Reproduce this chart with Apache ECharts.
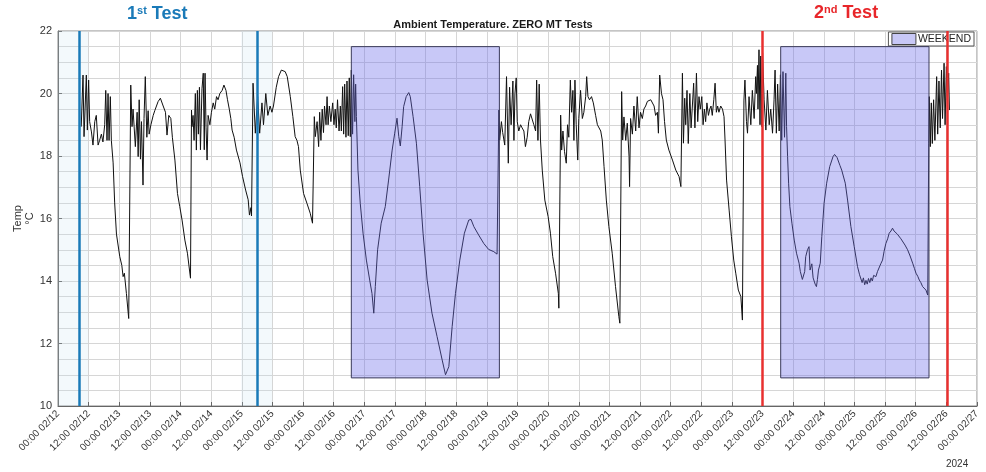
<!DOCTYPE html>
<html>
<head>
<meta charset="utf-8">
<script src="https://cdn.jsdelivr.net/npm/echarts@6/dist/echarts.min.js"></script>
<style>
  html, body { margin: 0; background: #fff; }
  #chart { width: 986px; height: 472px; }
</style>
</head>
<body>
<div id="chart"></div>
<script>
// hours since 00:00 02/12, temperature in degC
const run1 = [[9.1,18.94],[9.8,20.59],[10.2,18.62],[11.1,20.59],[11.5,18.83],[12.0,20.43],[12.4,19.1],[13.1,18.77],[13.7,18.35],[14.4,19.1],[15.0,19.3],[15.7,18.35],[16.3,18.5],[17.0,18.7],[17.6,18.45],[18.3,19.0],[18.7,20.1],[19.2,18.5],[19.6,20.0],[20.0,18.5],[20.5,19.9],[20.9,18.5],[21.6,17.78],[22.2,16.5],[22.9,15.5],[24.2,14.78],[25.0,14.5],[25.5,14.14],[26.0,14.25],[26.8,13.6],[27.7,12.8]];
const run2 = [[28.5,20.27],[29.0,18.94],[29.4,19.5],[30.3,18.3],[31.0,19.4],[31.4,17.98],[31.8,19.8],[32.3,17.9],[32.7,19.1],[33.3,17.07],[33.7,19.2],[34.2,20.54],[34.8,18.6],[35.3,19.45],[35.7,18.7],[36.4,19.0],[37.3,19.3],[37.9,19.45],[39.2,19.74],[40.1,19.85],[41.2,19.6],[42.1,19.4],[42.7,18.67],[43.4,19.3],[44.2,19.2],[44.8,18.6],[45.8,17.87],[46.8,16.8],[47.7,16.38],[48.6,15.95],[49.7,15.31],[50.7,14.89],[51.9,14.09]];
const run3 = [[52.3,19.47],[52.5,18.94],[52.9,19.3],[53.3,18.5],[53.8,20.0],[54.2,18.19],[54.6,20.1],[55.0,18.7],[55.4,20.2],[55.8,18.2],[56.4,20.15],[56.9,20.65],[57.3,18.2],[57.6,20.65],[58.0,18.9],[58.4,17.87],[58.8,19.3],[59.5,19.0],[60.1,19.4],[60.8,19.7],[61.4,19.5],[62.1,19.9],[62.7,19.8],[63.4,20.0],[64.3,20.1],[65.0,20.27],[65.8,20.1],[66.4,19.8],[67.1,19.5],[67.7,19.2],[68.2,18.83],[69.0,18.6],[69.9,18.19],[71.3,17.78],[72.3,17.34],[73.5,16.91],[74.5,16.6],[75.0,16.11],[75.6,16.35],[75.8,16.08]];
const run4 = [[76.4,20.33],[77.3,18.73],[78.2,19.9],[79.0,18.73],[79.9,19.7],[80.5,19.0],[81.4,20.0],[82.2,19.3],[83.1,19.6],[83.8,19.4],[84.4,19.6],[85.5,20.2],[86.4,20.54],[87.5,20.75],[88.1,20.8],[89.0,20.7],[89.8,20.54],[91.0,19.9],[92.0,19.26],[92.9,18.62],[93.6,18.5],[94.2,18.3],[94.9,17.55],[96.2,16.8],[97.5,16.49],[98.8,16.17],[99.7,15.85]];
const run5 = [[100.4,19.26],[100.8,18.62],[101.5,19.1],[102.1,18.3],[102.5,19.4],[103.0,18.5],[103.5,19.5],[104.0,18.75],[104.4,19.6],[105.0,19.0],[105.4,19.9],[105.8,19.0],[106.3,19.6],[106.9,19.1],[107.6,19.7],[108.1,19.0],[108.6,19.5],[109.0,18.9],[109.5,19.8],[110.1,18.8],[110.6,19.6],[111.0,18.8],[111.5,20.22],[111.9,18.7],[112.3,20.3],[112.8,18.6],[113.2,20.4],[113.7,18.65],[114.1,20.5],[114.5,18.62],[114.9,20.75],[115.4,18.7],[115.8,20.6],[116.3,19.1],[116.6,20.3],[116.9,19.26]];
const weekend1 = [[117.5,17.55],[118.4,16.49],[119.5,15.53],[120.8,14.67],[122.1,14.03],[123.0,13.6],[123.7,12.97],[124.3,13.82],[125.2,15.0],[126.6,15.85],[128.2,16.38],[129.5,17.23],[130.9,18.19],[131.9,18.73],[132.8,19.21],[133.5,18.62],[134.1,18.32],[134.8,18.94],[135.4,19.58],[136.4,19.9],[137.4,20.03],[138.0,19.9],[139.1,19.26],[140.4,18.41],[141.7,17.02],[143.0,15.53],[144.6,14.03],[146.5,12.97],[148.5,12.22],[150.5,11.47],[151.8,11.0],[153.1,11.26],[154.4,12.54],[155.7,13.6],[157.4,14.67],[159.2,15.53],[160.9,15.95],[161.8,15.97],[162.9,15.74],[164.8,15.47],[166.8,15.2],[168.7,15.01],[170.7,14.94],[172.0,14.86]];
const run6 = [[172.7,19.47],[173.0,18.51],[173.7,19.1],[174.2,18.75],[175.0,18.35],[175.7,20.54],[176.4,17.77],[176.9,20.2],[177.5,19.0],[178.2,20.4],[178.6,18.5],[179.0,20.0],[179.5,20.5],[179.9,19.1],[180.5,18.8],[181.2,19.0],[181.8,18.9],[182.5,18.8],[183.1,18.3],[183.8,18.6],[184.4,19.1],[185.1,19.35],[185.8,19.4],[186.4,19.0],[187.1,18.8],[187.5,20.43],[188.0,18.5],[188.5,20.3],[189.0,18.51],[189.7,17.55],[190.7,16.59],[192.0,16.06],[192.9,15.53],[193.8,14.78],[194.9,14.25],[196.0,13.6],[196.2,13.13]];
const run7 = [[196.9,19.31],[197.3,18.19],[197.8,18.8],[198.4,18.15],[199.1,17.77],[199.6,19.0],[200.1,18.6],[200.7,20.43],[201.2,19.4],[201.7,20.1],[202.1,18.5],[202.5,20.43],[203.0,19.0],[203.6,17.87],[204.0,19.2],[204.7,20.1],[205.4,19.2],[206.0,19.4],[206.7,19.9],[207.1,20.54],[207.6,19.9],[208.2,19.8],[209.0,19.9],[209.7,19.7],[210.6,19.3],[211.3,19.0],[211.9,19.05],[212.6,18.8],[213.2,18.51],[213.9,17.66],[214.8,16.59],[215.8,15.74],[217.1,14.89],[218.4,13.82],[219.7,12.86],[220.1,12.65]];
const run8 = [[220.8,20.06],[221.2,18.51],[221.7,19.25],[222.4,18.5],[223.0,19.05],[223.7,17.98],[223.9,17.02],[224.3,19.2],[225.0,18.7],[225.6,19.6],[226.3,18.8],[226.9,19.9],[227.6,18.9],[228.2,19.4],[228.9,19.2],[229.5,19.5],[230.2,19.6],[230.9,19.75],[231.5,19.7],[232.2,19.8],[232.8,19.75],[233.5,19.6],[234.1,19.3],[234.8,19.4],[235.2,18.73],[235.7,20.59],[236.4,20.0],[237.0,19.8],[237.6,19.1],[238.3,18.51],[239.3,18.19],[240.7,17.87],[242.0,17.55],[243.3,17.34],[244.0,17.02]];
const run9 = [[244.6,20.65],[245.0,18.41],[245.5,19.85],[245.9,19.0],[246.4,20.1],[246.9,18.4],[247.5,20.0],[248.0,18.9],[248.5,19.6],[249.0,20.33],[249.5,18.9],[250.1,20.65],[250.6,19.1],[251.1,19.9],[251.6,19.5],[252.2,19.9],[252.7,19.0],[253.2,19.5],[253.7,19.1],[254.2,19.7],[254.8,19.3],[255.3,19.5],[255.8,19.6],[256.3,19.3],[256.9,19.8],[257.4,20.33],[257.9,19.4],[258.4,19.6],[258.9,19.4],[259.6,19.6],[260.3,19.5],[260.9,19.26],[261.3,18.51],[261.9,17.23],[262.9,16.27],[263.8,15.42],[264.7,14.67],[265.5,14.25],[266.5,13.71],[267.5,13.5],[268.1,12.75]];
const run10 = [[268.7,19.79],[269.1,20.43],[269.7,19.1],[270.1,18.73],[270.7,19.9],[271.4,19.0],[272.0,20.1],[272.7,19.2],[273.3,20.54],[273.6,20.0],[274.0,20.9],[274.2,19.5],[274.6,21.4],[275.0,19.0],[275.3,21.2],[275.7,18.94],[276.0,21.3],[276.6,19.8],[277.3,18.83],[277.9,20.1],[278.6,19.0],[279.2,19.5],[279.9,18.73],[280.5,19.8],[280.9,20.75],[281.4,18.73],[281.9,20.3],[282.5,18.8],[283.0,20.6],[283.5,18.5],[284.0,20.7],[284.6,18.6],[285.1,20.65]];
const weekend2 = [[285.4,18.94],[285.8,17.98],[286.2,17.13],[286.7,16.38],[287.5,15.85],[288.4,15.31],[289.3,14.89],[290.3,14.57],[290.8,14.3],[291.2,14.25],[291.6,14.05],[292.0,14.03],[292.5,14.3],[292.9,14.78],[293.6,15.0],[294.2,15.1],[294.6,14.35],[295.3,14.55],[295.8,14.1],[296.2,14.14],[296.6,13.9],[297.1,13.82],[297.5,14.05],[297.9,14.35],[298.6,14.57],[299.2,15.42],[300.1,16.49],[301.1,17.13],[302.3,17.66],[303.6,17.98],[304.2,18.05],[304.7,18.09],[305.2,17.95],[305.7,17.98],[306.3,17.7],[307.0,17.55],[308.4,17.13],[309.3,16.59],[310.6,15.74],[311.9,15.1],[313.2,14.46],[314.0,14.2],[314.5,14.14],[315.0,13.95],[315.5,14.1],[316.0,13.88],[316.5,14.02],[317.0,13.9],[317.5,14.08],[318.0,13.95],[318.5,14.1],[319.0,14.0],[319.5,14.18],[320.4,14.14],[321.0,14.3],[321.7,14.35],[322.3,14.55],[323.0,14.67],[323.6,14.95],[324.3,15.2],[325.0,15.35],[325.6,15.53],[326.3,15.6],[326.9,15.69],[327.5,15.6],[328.2,15.63],[328.8,15.5],[329.5,15.47],[330.2,15.35],[330.9,15.31],[331.8,15.15],[332.8,15.0],[333.8,14.8],[334.8,14.57],[335.5,14.4],[336.1,14.25],[336.8,14.15],[337.4,14.03],[338.0,13.95],[338.7,13.82],[339.3,13.85],[340.0,13.71],[340.7,13.55]];
const run11 = [[341.1,18.41],[341.3,19.9],[341.7,18.3],[342.1,19.7],[342.5,18.4],[343.0,19.8],[343.5,18.5],[344.2,20.54],[344.6,18.7],[345.1,20.4],[345.6,18.9],[346.1,20.75],[346.5,19.2],[347.1,20.97],[347.5,19.0],[348.0,20.86],[348.4,19.79],[348.9,20.65],[349.2,19.47]];

const testOneHours = [8.2, 78.0];
const testTwoHours = [275.7, 348.2];
const weekendSpans = [[114.9, 172.9], [283.1, 341.2]];
const weekendTemps = [10.9, 21.5];
const paleSpans = [[0, 11.8], [71.8, 83.9]];

const tempData = [].concat(run1, run2, run3, run4, run5, weekend1, run6, run7, run8, run9, run10, weekend2, run11);

function hourLabel(h) {
    const day = 12 + Math.floor(h / 24);
    const hh = h % 24;
    return (hh < 10 ? '0' + hh : hh) + ':00 02/' + day;
}

const chart = echarts.init(document.getElementById('chart'));

const option = {
    animation: false,
    backgroundColor: '#fff',
    textStyle: { fontFamily: 'Liberation Sans, Arial, sans-serif' },
    title: {
        text: 'Ambient Temperature. ZERO MT Tests',
        left: 'center',
        top: 14,
        textStyle: { fontSize: 11, fontWeight: 'bold', color: '#1a1a1a' }
    },
    legend: {
        right: 12,
        top: 32,
        padding: [1, 3, 1, 3],
        itemWidth: 24,
        itemHeight: 11,
        backgroundColor: '#fff',
        borderColor: '#555',
        borderWidth: 1,
        borderRadius: 0,
        textStyle: { fontSize: 10.5, color: '#222', padding: [0, 0, 0, -3] },
        data: [{ name: 'WEEKEND', icon: 'rect', itemStyle: { color: '#c8c8f6', borderColor: '#444', borderWidth: 1 } }]
    },
    graphic: [
        {
            type: 'text', left: 127, top: 5,
            style: {
                text: '{a|1}{s|st}{a| Test}',
                rich: {
                    a: { fontSize: 18, fontWeight: 'bold', fill: '#1a7ab8', fontFamily: 'Liberation Sans' },
                    s: { fontSize: 11, fontWeight: 'bold', fill: '#1a7ab8', fontFamily: 'Liberation Sans', verticalAlign: 'top', padding: [0, 0, 7, 0] }
                }
            }
        },
        {
            type: 'text', left: 814, top: 4,
            style: {
                text: '{a|2}{s|nd}{a| Test}',
                rich: {
                    a: { fontSize: 18, fontWeight: 'bold', fill: '#e8262a', fontFamily: 'Liberation Sans' },
                    s: { fontSize: 11, fontWeight: 'bold', fill: '#e8262a', fontFamily: 'Liberation Sans', verticalAlign: 'top', padding: [0, 0, 7, 0] }
                }
            }
        },
        {
            type: 'text', left: 946, top: 459,
            style: { text: '2024', fontSize: 10, fill: '#333', fontFamily: 'Liberation Sans' }
        }
    ],
    grid: {
        left: 58, right: 9, top: 31, bottom: 66,
        outerBoundsMode: 'none',
        show: true, borderColor: '#8a8a8a', borderWidth: 1
    },
    xAxis: {
        type: 'value',
        min: 0,
        max: 360,
        interval: 12,
        axisLine: { lineStyle: { color: '#666' } },
        axisTick: { inside: true, length: 4, lineStyle: { color: '#666' } },
        axisLabel: {
            rotate: 45,
            fontSize: 10,
            color: '#333',
            margin: 6,
            formatter: hourLabel
        },
        splitLine: { show: true, lineStyle: { color: '#d6d6d6', width: 1 } }
    },
    yAxis: {
        type: 'value',
        min: 10,
        max: 22,
        interval: 2,
        name: 'Temp\n°C',
        nameLocation: 'middle',
        nameGap: 22,
        nameMoveOverlap: false,
        nameRotate: 90,
        nameTextStyle: { fontSize: 11, color: '#333', lineHeight: 12 },
        axisLine: { show: true, lineStyle: { color: '#666' } },
        axisTick: { show: true, inside: true, length: 4, lineStyle: { color: '#666' } },
        axisLabel: { fontSize: 11, color: '#333', margin: 6 },
        minorTick: { show: false, splitNumber: 4 },
        splitLine: { show: true, lineStyle: { color: '#d6d6d6', width: 1 } },
        minorSplitLine: { show: true, lineStyle: { color: '#d6d6d6', width: 1 } }
    },
    series: [
        {
            name: 'pale',
            type: 'line',
            data: [],
            z: 1,
            markArea: {
                silent: true,
                itemStyle: { color: 'rgba(195,225,242,0.2)' },
                data: paleSpans.map(s => [{ xAxis: s[0] }, { xAxis: s[1] }])
            }
        },
        {
            name: 'Temp',
            type: 'line',
            data: tempData,
            showSymbol: false,
            sampling: 'none',
            z: 2,
            lineStyle: { color: '#111', width: 1 },
            itemStyle: { color: '#111' }
        },
        {
            name: 'WEEKEND',
            type: 'line',
            data: [],
            z: 3,
            itemStyle: { color: '#c8c8f6' },
            markArea: {
                silent: true,
                z: 5,
                itemStyle: { color: 'rgba(110,110,235,0.38)', borderColor: '#3a3a5a', borderWidth: 1 },
                data: weekendSpans.map(s => [
                    { xAxis: s[0], yAxis: weekendTemps[1] },
                    { xAxis: s[1], yAxis: weekendTemps[0] }
                ])
            }
        },
        {
            name: 'tests',
            type: 'line',
            data: [],
            z: 6,
            markLine: {
                silent: true,
                symbol: 'none',
                label: { show: false },
                data: testOneHours.map(h => ({ xAxis: h, lineStyle: { color: '#1a7ab8', width: 2.5, type: 'solid' } }))
                    .concat(testTwoHours.map(h => ({ xAxis: h, lineStyle: { color: '#e8302f', width: 2.5, type: 'solid' } })))
            }
        }
    ]
};

chart.setOption(option);
</script>
</body>
</html>
